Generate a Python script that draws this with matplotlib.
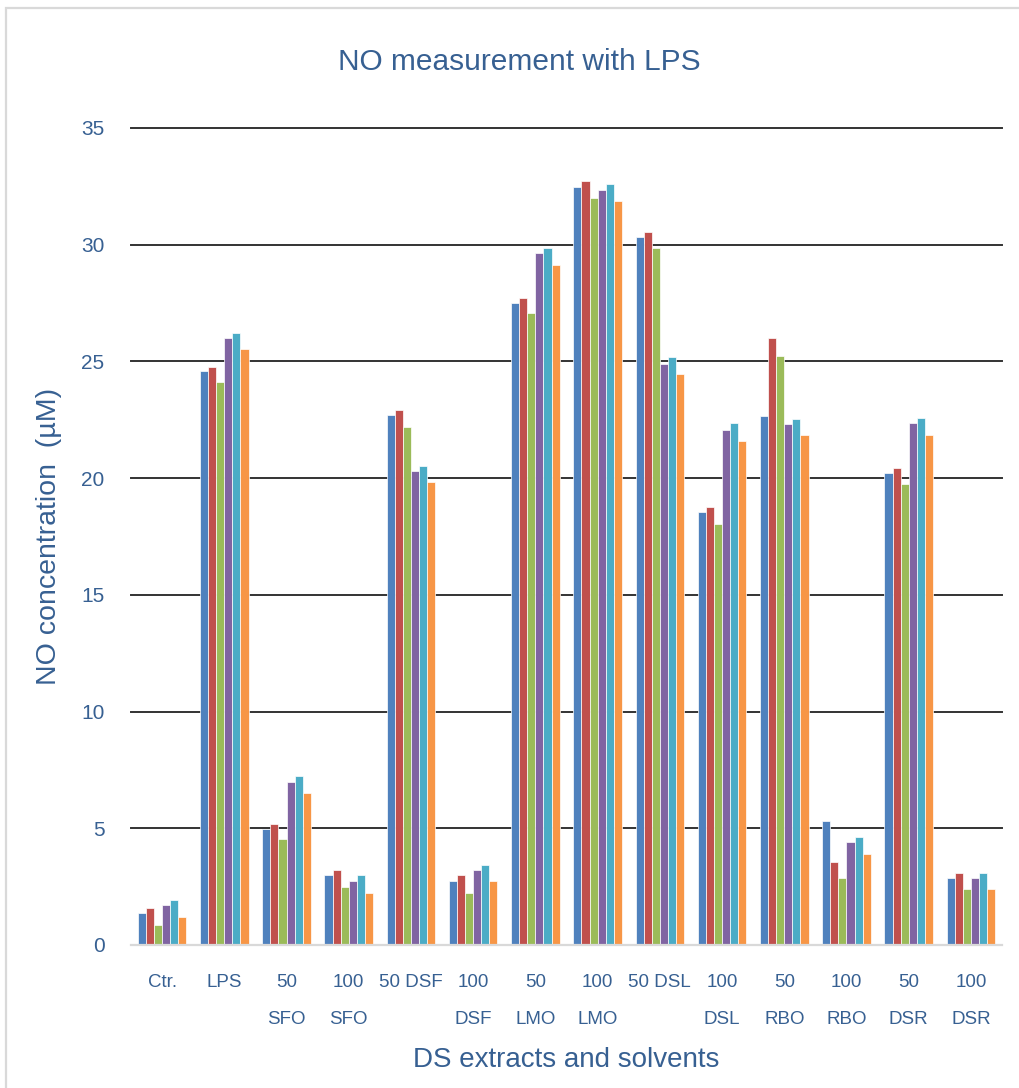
import numpy as np
import matplotlib
matplotlib.use("Agg")
import matplotlib.pyplot as plt
import matplotlib.patches as patches

# NO concentration (uM) per treatment, six replicate series each
categories = ["Ctr.", "LPS", "50\nSFO", "100\nSFO", "50 DSF", "100\nDSF", "50\nLMO",
              "100\nLMO", "50 DSL", "100\nDSL", "50\nRBO", "100\nRBO", "50\nDSR", "100\nDSR"]
series1 = [1.37, 24.57, 4.97, 3.00, 22.70, 2.75, 27.50, 32.48, 30.33, 18.55, 22.68, 5.30, 20.20, 2.87]
series2 = [1.59, 24.78, 5.20, 3.21, 22.92, 3.00, 27.73, 32.71, 30.56, 18.75, 25.99, 3.56, 20.43, 3.10]
series3 = [0.86, 24.10, 4.54, 2.48, 22.18, 2.23, 27.06, 31.98, 29.87, 18.05, 25.24, 2.87, 19.75, 2.39]
series4 = [1.71, 25.99, 7.00, 2.74, 20.30, 3.21, 29.66, 32.36, 24.88, 22.06, 22.30, 4.41, 22.35, 2.87]
series5 = [1.93, 26.20, 7.24, 3.00, 20.54, 3.44, 29.87, 32.60, 25.17, 22.35, 22.52, 4.61, 22.58, 3.10]
series6 = [1.20, 25.53, 6.50, 2.23, 19.85, 2.75, 29.15, 31.87, 24.44, 21.61, 21.85, 3.90, 21.85, 2.39]

colors = ["#4F81BD", "#C0504D", "#9BBB59", "#8064A2", "#4BACC6", "#F79646"]
text_color = "#376092"

plt.rcParams["font.family"] = ["Liberation Sans", "DejaVu Sans"]

fig = plt.figure(figsize=(10.19, 10.88), dpi=100)
ax = fig.add_axes([131 / 1019, 1 - 945 / 1088, 871 / 1019, 817.5 / 1088])

all_series = [series1, series2, series3, series4, series5, series6]
x = np.arange(len(categories))
w = 0.13
for i, (vals, c) in enumerate(zip(all_series, colors)):
    offs = (i - 2.5) * w
    ax.bar(x + offs, vals, width=w, color=c, edgecolor="white", linewidth=0.5, zorder=3)

ax.set_xlim(-0.5, len(categories) - 0.5)
ax.set_ylim(0, 35.02)
ax.set_yticks(np.arange(0, 36, 5))
ax.set_xticks(x)
ax.set_xticklabels(categories, linespacing=2.55)

# horizontal gridlines (the zero line is the pale axis line instead)
for yv in range(5, 36, 5):
    ax.axhline(yv, color="#333333", linewidth=1.4, zorder=1, clip_on=False)

for s in ["top", "right", "left"]:
    ax.spines[s].set_visible(False)
ax.spines["bottom"].set_color("#D9D9D9")
ax.spines["bottom"].set_linewidth(1.6)
ax.spines["bottom"].set_zorder(4)

ax.tick_params(axis="y", length=0, pad=19, labelsize=15, labelcolor=text_color)
ax.tick_params(axis="x", length=0, pad=21, labelsize=13.5, labelcolor=text_color)

ax.set_ylabel("NO concentration  (\u00b5M)", fontsize=20.5, color=text_color, labelpad=14)
fig.text(566 / 1019, 1 - 1060 / 1088, "DS extracts and solvents", fontsize=20,
         color=text_color, ha="center", va="center")
fig.text(519 / 1019, 1 - 62 / 1088, "NO measurement with LPS", fontsize=21.5,
         color=text_color, ha="center", va="center")

# chart frame
fig.add_artist(patches.Rectangle((6 / 1019, -0.01), 1.1, 1 - 8 / 1088 + 0.01,
                                 transform=fig.transFigure, fill=False,
                                 edgecolor="#D9D9D9", linewidth=1.6))

fig.savefig("out.png", dpi=100, facecolor="white")
